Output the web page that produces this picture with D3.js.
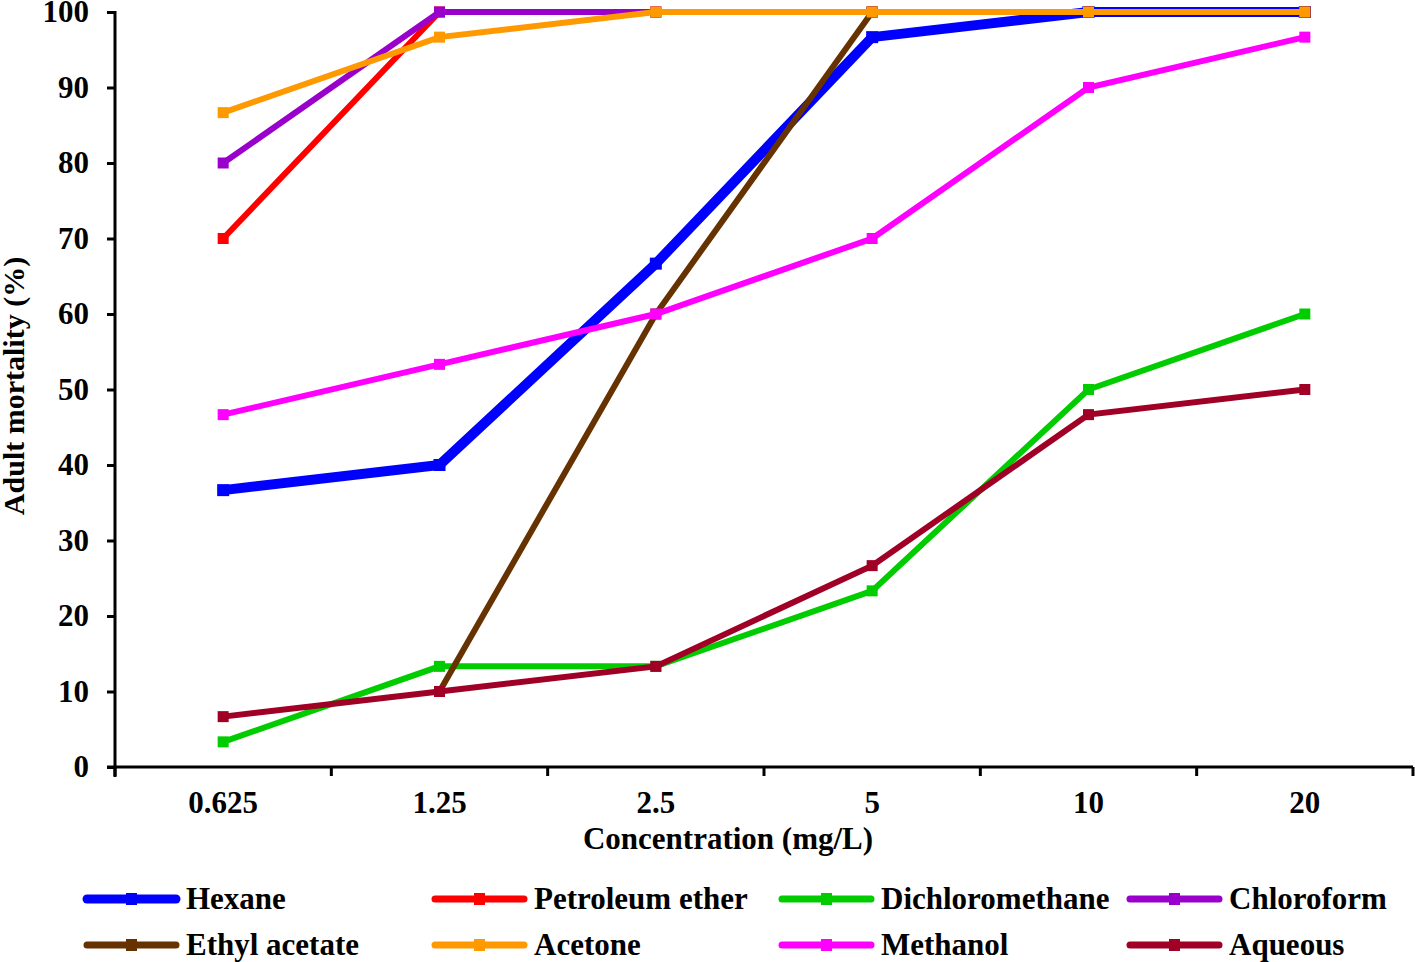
<!DOCTYPE html>
<html>
<head>
<meta charset="utf-8">
<script src="https://cdn.jsdelivr.net/npm/d3@7"></script>
<style>
  body { margin: 0; background: #fff; }
  text { font-family: "Liberation Serif", "Times New Roman", serif; font-weight: bold; fill: #000; }
</style>
</head>
<body>
<div id="chart"></div>
<script>
// categories and values
var concentrations = ["0.625", "1.25", "2.5", "5", "10", "20"];
var yTicks = [0, 10, 20, 30, 40, 50, 60, 70, 80, 90, 100];

var seriesNames = ["Hexane", "Petroleum ether", "Dichloromethane", "Chloroform",
                   "Ethyl acetate", "Acetone", "Methanol", "Aqueous"];
var seriesColors = ["#0000ff", "#ff0000", "#00cc00", "#9900cc",
                    "#663300", "#ff9900", "#ff00ff", "#a00026"];

var hexane = [36.67, 40, 66.67, 96.67, 100, 100];
var petroleumEther = [70, 100, 100, 100, 100, 100];
var dichloromethane = [3.33, 13.33, 13.33, 23.33, 50, 60];
var chloroform = [80, 100, 100, 100, 100, 100];
var ethylAcetate = [null, 10, 60, 100, 100, 100];
var acetone = [86.67, 96.67, 100, 100, 100, 100];
var methanol = [46.67, 53.33, 60, 70, 90, 96.67];
var aqueous = [6.67, 10, 13.33, 26.67, 46.67, 50];

var seriesValues = [hexane, petroleumEther, dichloromethane, chloroform,
                    ethylAcetate, acetone, methanol, aqueous];

var W = 1415, H = 962;
var margin = {top: 12, right: 2, bottom: 195, left: 115};
var fontSize = "31px";

var svg = d3.select("#chart").append("svg")
    .attr("width", W)
    .attr("height", H);

var x = d3.scaleBand()
    .domain(concentrations)
    .range([margin.left, W - margin.right]);

var y = d3.scaleLinear()
    .domain([0, 100])
    .range([H - margin.bottom, margin.top]);

var cx = function(c) { return x(c) + x.bandwidth() / 2; };

////////// axes //////////

var yAxis = svg.append("g")
    .attr("transform", "translate(" + margin.left + ",0)")
    .call(d3.axisLeft(y).tickValues(yTicks).tickSize(8).tickPadding(18).tickFormat(d3.format("d")));

var xAxis = svg.append("g")
    .attr("transform", "translate(0," + y(0) + ")")
    .call(d3.axisBottom(x).tickSize(0).tickPadding(24));

// band boundary ticks
var bounds = concentrations.map(function(c) { return x(c); }).concat([x.range()[1]]);
xAxis.selectAll(".bound")
    .data(bounds)
    .enter()
    .append("line")
    .attr("class", "bound")
    .attr("x1", function(d) { return d; })
    .attr("x2", function(d) { return d; })
    .attr("y1", 0)
    .attr("y2", 9)
    .attr("stroke", "#000")
    .attr("stroke-width", 3);

[yAxis, xAxis].forEach(function(g) {
    g.selectAll(".tick line").attr("stroke", "#000").attr("stroke-width", 3);
    g.selectAll(".tick text").style("font-size", fontSize).style("font-family", "Liberation Serif").style("font-weight", "bold");
});
// plain axis lines instead of the domain paths
yAxis.select(".domain").remove();
yAxis.append("line")
    .attr("x1", 0).attr("x2", 0)
    .attr("y1", y(100) - 1).attr("y2", y(0) + 10)
    .attr("stroke", "#000").attr("stroke-width", 3);
xAxis.select(".domain").remove();
xAxis.append("line")
    .attr("x1", margin.left - 8).attr("x2", x.range()[1])
    .attr("y1", 0).attr("y2", 0)
    .attr("stroke", "#000").attr("stroke-width", 3);

svg.append("text")
    .attr("x", 728)
    .attr("y", 849)
    .attr("text-anchor", "middle")
    .style("font-size", fontSize)
    .text("Concentration (mg/L)");

svg.append("text")
    .attr("transform", "translate(24," + 386 + ") rotate(-90)")
    .attr("text-anchor", "middle")
    .style("font-size", "30px")
    .text("Adult mortality (%)");

////////// lines //////////

var line = d3.line()
    .defined(function(d) { return d.v != null; })
    .x(function(d) { return cx(d.c); })
    .y(function(d) { return y(d.v); });

var series = seriesNames.map(function(name, i) {
    return {
        name: name,
        color: seriesColors[i],
        width: i === 0 ? 10 : 6,
        marker: i === 0 ? 12 : 11,
        points: concentrations.map(function(c, j) { return {c: c, v: seriesValues[i][j]}; })
    };
});

var groups = svg.selectAll(".series")
    .data(series)
    .enter()
    .append("g")
    .attr("class", "series");

groups.append("path")
    .attr("fill", "none")
    .attr("stroke", function(d) { return d.color; })
    .attr("stroke-width", function(d) { return d.width; })
    .attr("stroke-linejoin", "miter")
    .attr("d", function(d) { return line(d.points); });

groups.each(function(s) {
    d3.select(this).selectAll("rect")
        .data(s.points.filter(function(p) { return p.v != null; }))
        .enter()
        .append("rect")
        .attr("x", function(p) { return cx(p.c) - s.marker / 2; })
        .attr("y", function(p) { return y(p.v) - s.marker / 2; })
        .attr("width", s.marker)
        .attr("height", s.marker)
        .attr("fill", s.color);
});

////////// legend //////////

var legendX = [83, 431, 778, 1126],
    legendY = [899, 945];

var legend = svg.selectAll(".legend")
    .data(series)
    .enter()
    .append("g")
    .attr("class", "legend")
    .attr("transform", function(d, i) {
        return "translate(" + legendX[i % 4] + "," + legendY[Math.floor(i / 4)] + ")";
    });

legend.append("line")
    .attr("x1", 4).attr("x2", 93)
    .attr("y1", 0).attr("y2", 0)
    .attr("stroke", function(d) { return d.color; })
    .attr("stroke-width", function(d, i) { return i === 0 ? 9 : 7; })
    .attr("stroke-linecap", "round");

legend.append("rect")
    .attr("x", 43).attr("y", -6)
    .attr("width", 11).attr("height", 12)
    .attr("fill", function(d) { return d.color; });

legend.append("text")
    .attr("x", 103)
    .attr("y", 10)
    .style("font-size", fontSize)
    .text(function(d) { return d.name; });
</script>
</body>
</html>
